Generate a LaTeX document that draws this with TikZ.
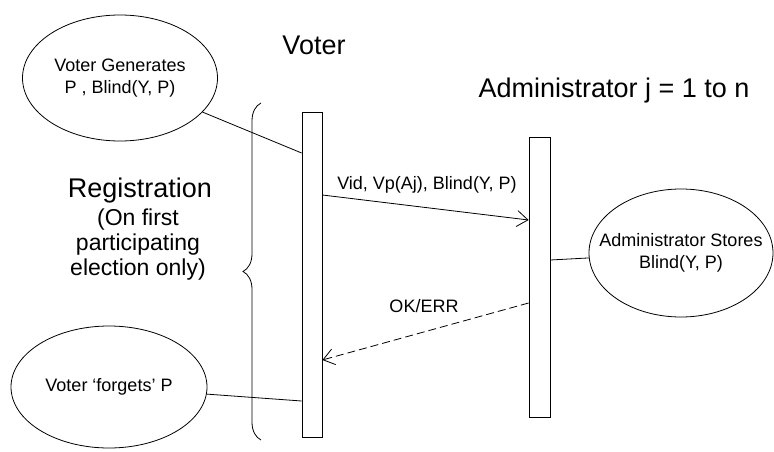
\documentclass[tikz,border=0pt]{standalone}
\usepackage{fontspec}
\setmainfont{Liberation Sans}
\usetikzlibrary{arrows.meta,shapes.geometric,decorations.pathreplacing}

\begin{document}
\begin{tikzpicture}[x=1pt,y=-1pt,line width=0.8pt,>={Straight Barb[length=11pt,width=16pt]},
  bulle/.style={draw,ellipse,inner sep=0pt},
  vida/.style={draw,rectangle,inner sep=0pt},
  rotulo/.style={font=\fontsize{18}{22}\selectfont},
  titulo/.style={font=\fontsize{27}{30}\selectfont,anchor=base}]
  \useasboundingbox (0,0) rectangle (774,452);
  % lineas de vida
  \node[vida,minimum width=20pt,minimum height=325pt] (vl) at (312,274.5) {};
  \node[vida,minimum width=21pt,minimum height=280pt] (al) at (539.5,277) {};
  % titulos
  \node[titulo] (voter) at (314,55) {Voter};
  \node[titulo] (admin) at (614,97) {Administrator j = 1 to n};
  \node[titulo] (reg) at (140,197) {Registration};
  \node[font=\fontsize{23}{25}\selectfont,align=center,anchor=base] (regnote) at (138,275)
    {(On first\\participating\\election only)};
  % llave
  \draw[decorate,decoration={brace,amplitude=18pt}] (261,440) -- (261,103);
  % elipses
  \node[bulle,minimum width=195pt,minimum height=126pt] (gen) at (120,78) {};
  \node[rotulo,align=center] (gentext) at (gen) {Voter Generates\\P , Blind(Y, P)};
  \node[bulle,minimum width=184pt,minimum height=128pt] (sto) at (681,253) {};
  \node[rotulo,align=center] (stotext) at (sto) {Administrator Stores\\Blind(Y, P)};
  \node[bulle,minimum width=196pt,minimum height=122pt] (fg) at (109,387) {};
  \node[rotulo] (fgtext) at (fg) {Voter ‘forgets’ P};
  % puntos sobre las lineas de vida
  \coordinate (v0) at (vl.west |- 0,153);
  \coordinate (v1) at (vl.east |- 0,195);
  \coordinate (v2) at (vl.east |- 0,360);
  \coordinate (v3) at (vl.west |- 0,401);
  \coordinate (a1) at (al.west |- 0,220);
  \coordinate (a2) at (al.west |- 0,303);
  \coordinate (a3) at (al.east |- 0,260);
  % mensajes
  \draw[->] (v1) -- (a1);
  \node[rotulo,anchor=base] (m1) at (427,189) {Vid, Vp(Aj), Blind(Y, P)};
  \draw[->,dash pattern=on 8pt off 4pt] (a2) -- (v2);
  \node[rotulo,anchor=base] (m2) at (424,312) {OK/ERR};
  % enlaces a las elipses
  \draw (gen) -- (v0);
  \draw (sto) -- (a3);
  \draw (fg) -- (v3);
\end{tikzpicture}
\end{document}
